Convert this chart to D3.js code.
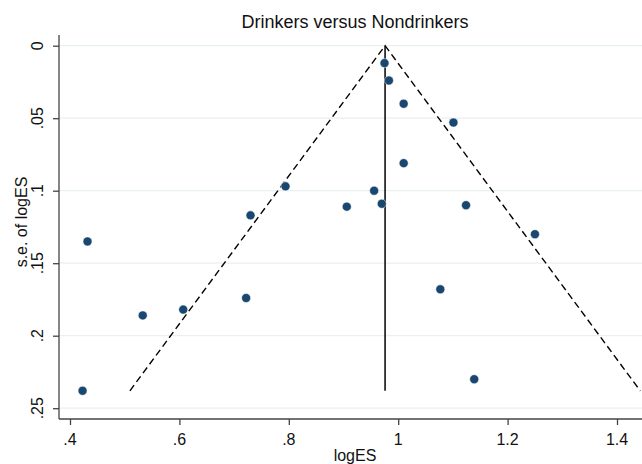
<!doctype html>
<html>
<head>
<meta charset="utf-8">
<title>Funnel plot</title>
<script src="https://cdnjs.cloudflare.com/ajax/libs/d3/7.8.5/d3.min.js"></script>
<style>
  body { margin: 0; background: #fff; }
  text { font-family: "Liberation Sans", Arial, sans-serif; fill: #111; }
</style>
</head>
<body>
<div id="chart"></div>
<script>
// study effect sizes and their standard errors
const logES   = [0.975, 0.983, 1.010, 1.101, 1.010, 0.794, 0.956, 0.906, 0.970, 1.124, 0.730, 1.250, 0.432, 1.077, 0.722, 0.607, 0.533, 0.423, 1.139];
const seLogES = [0.012, 0.024, 0.040, 0.053, 0.081, 0.097, 0.100, 0.111, 0.109, 0.110, 0.117, 0.130, 0.135, 0.168, 0.174, 0.182, 0.186, 0.238, 0.230];

// pooled estimate and funnel depth
const pooled = 0.976;
const seMax = 0.238;

const xTicks = [0.4, 0.6, 0.8, 1, 1.2, 1.4];
const yTicks = [0, 0.05, 0.1, 0.15, 0.2, 0.25];
const fmt = v => v === 0 ? "0" : d3.format(".2~f")(v).replace(/^0\./, ".");

const W = 642, H = 464;
const plotL = 59, plotR = 642, plotT = 35, plotB = 419;

const svg = d3.select("#chart").append("svg")
  .attr("width", W).attr("height", H);

const x = d3.scaleLinear().domain([0.4, 1.4]).range([70, 617]);
const y = d3.scaleLinear().domain([0, 0.25]).range([45.7, 408.2]);

// grid lines
svg.append("g").selectAll("line").data(yTicks).join("line")
  .attr("x1", plotL).attr("x2", plotR)
  .attr("y1", d => y(d)).attr("y2", d => y(d))
  .attr("stroke", "#e8f0f2").attr("stroke-width", 1.3);

// axes
const yAxis = svg.append("g").attr("transform", `translate(${plotL},0)`)
  .call(d3.axisLeft(y).tickValues(yTicks).tickFormat("").tickSize(6).tickSizeOuter(0));
yAxis.select(".domain").attr("d", `M0,${plotT}V${plotB}`);

const xAxis = svg.append("g").attr("transform", `translate(0,${plotB})`)
  .call(d3.axisBottom(x).tickValues(xTicks).tickFormat("").tickSize(6).tickSizeOuter(0));
xAxis.select(".domain").attr("d", `M${plotL},0H${plotR}`);

svg.selectAll(".domain, .tick line").attr("stroke", "#444").attr("stroke-width", 1.3);

// tick labels
svg.append("g").selectAll("text").data(xTicks).join("text")
  .attr("x", d => x(d)).attr("y", 445)
  .attr("text-anchor", "middle").attr("font-size", 16)
  .text(fmt);

svg.append("g").selectAll("text").data(yTicks).join("text")
  .attr("transform", d => `translate(43,${y(d)}) rotate(-90)`)
  .attr("text-anchor", "middle").attr("font-size", 16)
  .text(fmt);

// axis titles
svg.append("text").attr("x", 355).attr("y", 461)
  .attr("text-anchor", "middle").attr("font-size", 16).text("logES");
svg.append("text").attr("transform", "translate(27,222) rotate(-90)")
  .attr("text-anchor", "middle").attr("font-size", 16).text("s.e. of logES");

// title
svg.append("text").attr("x", 355).attr("y", 28)
  .attr("text-anchor", "middle").attr("font-size", 18).text("Drinkers versus Nondrinkers");

// funnel limits
const funnel = [
  [pooled - 1.96 * seMax, seMax],
  [pooled, 0],
  [pooled + 1.96 * seMax, seMax]
];
svg.append("path")
  .attr("d", d3.line().x(d => x(d[0])).y(d => y(d[1]))(funnel))
  .attr("fill", "none").attr("stroke", "#000").attr("stroke-width", 1.4)
  .attr("stroke-dasharray", "7,4");

svg.append("line")
  .attr("x1", x(pooled)).attr("x2", x(pooled))
  .attr("y1", y(0)).attr("y2", y(seMax))
  .attr("stroke", "#000").attr("stroke-width", 1.5);

// studies
svg.append("g").selectAll("circle").data(logES).join("circle")
  .attr("cx", d => x(d))
  .attr("cy", (d, i) => y(seLogES[i]))
  .attr("r", 4.5)
  .attr("fill", "#1a476f")
  .attr("stroke", "#fff").attr("stroke-width", 0.5);
</script>
</body>
</html>
